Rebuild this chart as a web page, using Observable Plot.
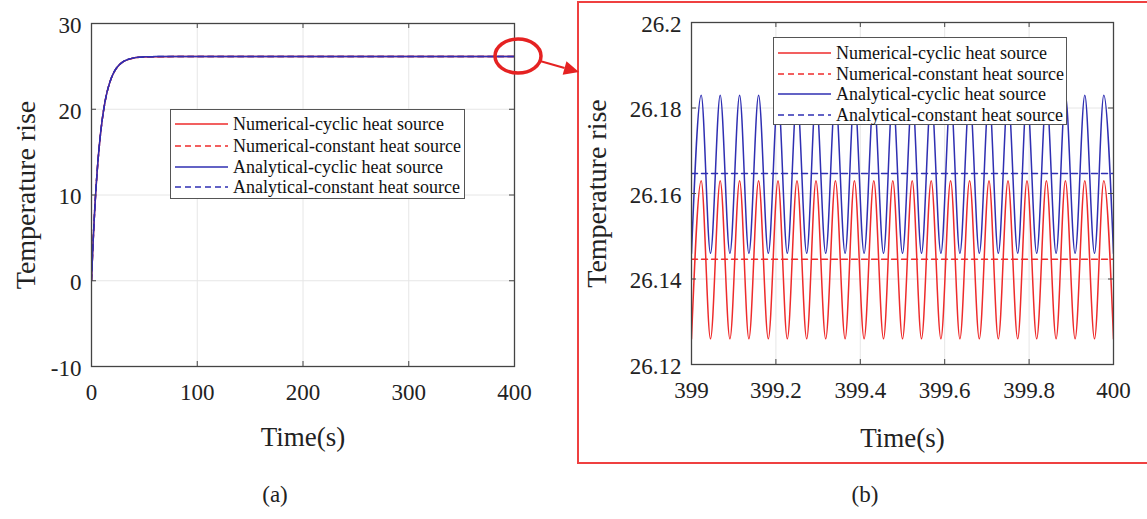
<!DOCTYPE html>
<html><head><meta charset="utf-8">
<script src="https://cdn.jsdelivr.net/npm/d3@7"></script>
<script src="https://cdn.jsdelivr.net/npm/@observablehq/plot@0.6"></script>
<style>
html,body{margin:0;padding:0;background:#fff;}
#root{position:relative;width:1147px;height:519px;overflow:hidden;font-family:"Liberation Serif","Times New Roman",serif;background:#fff;}
.plot{position:absolute;top:0;}
.plot text{font-family:"Liberation Serif","Times New Roman",serif !important;font-variant-numeric:normal !important;}
.legend{position:absolute;background:#fff;border:1px solid #555;box-sizing:border-box;font-size:18px;color:#111;}
.row{position:absolute;left:0;height:20px;display:flex;align-items:center;white-space:nowrap;transform:translateY(-50%);}
.cap{position:absolute;font-size:23px;color:#222;transform:translate(-50%,-50%);white-space:nowrap;}
#overlay{position:absolute;left:0;top:0;}
</style></head><body><div id="root"></div>
<script>
// ---------- series labels ----------
const seriesNames = ["Numerical-cyclic heat source","Numerical-constant heat source","Analytical-cyclic heat source","Analytical-constant heat source"];
const xTitle = "Time(s)";
const yTitle = "Temperature rise";
const captions = ["(a)", "(b)"];

// ---------- panel (a): full run ----------
const xTicksA = [0, 100, 200, 300, 400];
const xLabelsA = ["0", "100", "200", "300", "400"];
const yTicksA = [-10, 0, 10, 20, 30];
const yLabelsA = ["-10", "0", "10", "20", "30"];
const riseTime = [0,1,2,3,4,5,6,8,10,12,14,16,18,20,23,26,30,35,40,45,50,60,80,100,150,200,250,300,350,400];
const numRise  = [0,3.07,5.78,8.18,10.29,12.15,13.80,16.53,18.66,20.32,21.61,22.61,23.39,24.00,24.68,25.14,25.54,25.82,25.97,26.05,26.09,26.12,26.14,26.145,26.145,26.145,26.145,26.145,26.145,26.145];
const anaRise  = [0,3.07,5.78,8.18,10.29,12.15,13.80,16.53,18.66,20.32,21.61,22.61,23.39,24.01,24.69,25.15,25.56,25.84,25.99,26.07,26.11,26.14,26.16,26.165,26.165,26.165,26.165,26.165,26.165,26.165];

// ---------- panel (b): last second ----------
const xTicksB = [399, 399.2, 399.4, 399.6, 399.8, 400];
const xLabelsB = ["399", "399.2", "399.4", "399.6", "399.8", "400"];
const yTicksB = [26.12, 26.14, 26.16, 26.18, 26.2];
const yLabelsB = ["26.12", "26.14", "26.16", "26.18", "26.2"];
const zoomTime = [399.000,399.023,399.045,399.068,399.091,399.114,399.136,399.159,399.182,399.205,399.227,399.250,399.273,399.295,399.318,399.341,399.364,399.386,399.409,399.432,399.455,399.477,399.500,399.523,399.545,399.568,399.591,399.614,399.636,399.659,399.682,399.705,399.727,399.750,399.773,399.795,399.818,399.841,399.864,399.886,399.909,399.932,399.955,399.977,400.000];
const numCyclic = [26.126,26.163,26.126,26.163,26.126,26.163,26.126,26.163,26.126,26.163,26.126,26.163,26.126,26.163,26.126,26.163,26.126,26.163,26.126,26.163,26.126,26.163,26.126,26.163,26.126,26.163,26.126,26.163,26.126,26.163,26.126,26.163,26.126,26.163,26.126,26.163,26.126,26.163,26.126,26.163,26.126,26.163,26.126,26.163,26.126];
const anaCyclic = [26.146,26.183,26.146,26.183,26.146,26.183,26.146,26.183,26.146,26.183,26.146,26.183,26.146,26.183,26.146,26.183,26.146,26.183,26.146,26.183,26.146,26.183,26.146,26.183,26.146,26.183,26.146,26.183,26.146,26.183,26.146,26.183,26.146,26.183,26.146,26.183,26.146,26.183,26.146,26.183,26.146,26.183,26.146,26.183,26.146];
const constTime = [399, 400];
const numConst = [26.1446, 26.1446];
const anaConst = [26.1647, 26.1647];

// ---------- styles ----------
const RED = "#ee2b2b", BLUE = "#2f2fb2";
const seriesColors = [RED, RED, BLUE, BLUE];
const seriesDash = [null, "6,4", null, "6,4"];
const FONT = '"Liberation Serif","Times New Roman",serif';
const AXIS = "#444";

const zip = (t, v) => t.map((x, i) => ({t: x, v: v[i]}));

function panel(o) {
  const [mt, mr, mb, ml] = o.margins;
  const ph = o.height - mt - mb, pw = o.width - ml - mr;
  const tl = 5;
  const fx = d => o.xLabels[o.xTicks.indexOf(d)];
  const fy = d => o.yLabels[o.yTicks.indexOf(d)];
  return Plot.plot({
    width: o.width, height: o.height,
    marginTop: mt, marginRight: mr, marginBottom: mb, marginLeft: ml,
    x: {domain: o.xDomain}, y: {domain: o.yDomain},
    style: {fontFamily: FONT, fontSize: "23px", color: "#222", background: "transparent", overflow: "visible"},
    marks: [
      Plot.gridX({ticks: o.xTicks, stroke: "#e6e6e6", strokeOpacity: 1}),
      Plot.gridY({ticks: o.yTicks, stroke: "#e6e6e6", strokeOpacity: 1}),
      ...o.lines.map((l, i) => Plot.line(l, {x: "t", y: "v", stroke: seriesColors[i], strokeWidth: 1.5,
        strokeDasharray: seriesDash[i], curve: o.curve, clip: true})),
      Plot.frame({stroke: AXIS, strokeWidth: 1.3}),
      Plot.tickX(o.xTicks, {x: d => d, insetTop: ph - tl, stroke: AXIS}),
      Plot.tickX(o.xTicks, {x: d => d, insetBottom: ph - tl, stroke: AXIS}),
      Plot.tickY(o.yTicks, {y: d => d, insetRight: pw - tl, stroke: AXIS}),
      Plot.tickY(o.yTicks, {y: d => d, insetLeft: pw - tl, stroke: AXIS}),
      Plot.axisX({ticks: o.xTicks, tickSize: 0, tickPadding: 17, tickFormat: fx, label: null, fontSize: 23, fontFamily: FONT, fill: "#222"}),
      Plot.axisY({ticks: o.yTicks, tickSize: 0, tickPadding: 10, tickFormat: fy, label: null, fontSize: 23, fontFamily: FONT, fill: "#222", dy: 2}),
      Plot.text([xTitle], {frameAnchor: "bottom", lineAnchor: "middle", textAnchor: "middle", dy: o.xTitleDy, fontSize: 27, fontFamily: FONT, text: d => d, fill: "#222"}),
      Plot.text([yTitle], {frameAnchor: "left", lineAnchor: "middle", textAnchor: "middle", dx: o.yTitleDx, rotate: -90, fontSize: 28, fontFamily: FONT, text: d => d, fill: "#222"})
    ]
  });
}

const root = document.getElementById("root");

const plotA = panel({
  width: 560, height: 470, margins: [23, 46, 104, 91],
  xDomain: [0, 400], yDomain: [-10, 30],
  xTicks: xTicksA, xLabels: xLabelsA, yTicks: yTicksA, yLabels: yLabelsA,
  lines: [zip(riseTime, numRise), zip(riseTime, numRise), zip(riseTime, anaRise), zip(riseTime, anaRise)],
  curve: "monotone-x", xTitleDy: 71, yTitleDx: -65
});
plotA.classList.add("plot"); plotA.style.left = "0px";
root.appendChild(plotA);

const B_LEFT = 580;
const plotB = panel({
  width: 567, height: 470, margins: [22, 34, 106, 111],
  xDomain: [399, 400], yDomain: [26.12, 26.2],
  xTicks: xTicksB, xLabels: xLabelsB, yTicks: yTicksB, yLabels: yLabelsB,
  lines: [zip(zoomTime, numCyclic), zip(constTime, numConst), zip(zoomTime, anaCyclic), zip(constTime, anaConst)],
  curve: "monotone-x", xTitleDy: 74, yTitleDx: -94
});
plotB.classList.add("plot"); plotB.style.left = B_LEFT + "px";
root.appendChild(plotB);

// ---------- legends ----------
function legend(left, top, w, h, rowYs) {
  const div = document.createElement("div");
  div.className = "legend";
  Object.assign(div.style, {left: left + "px", top: top + "px", width: w + "px", height: h + "px"});
  seriesNames.forEach((name, i) => {
    const r = document.createElement("div");
    r.className = "row";
    r.style.top = rowYs[i] + "px";
    r.innerHTML = `<svg width="62" height="20" style="flex:none"><line x1="4" x2="57" y1="10" y2="10" stroke="${seriesColors[i]}" stroke-width="1.6" ${seriesDash[i] ? `stroke-dasharray="${seriesDash[i]}"` : ""}/></svg><span>${name}</span>`;
    div.appendChild(r);
  });
  root.appendChild(div);
}
legend(170, 109, 295, 90, [14, 36, 57, 77]);
legend(773, 37, 294, 88, [15, 36, 56, 77]);

// ---------- captions ----------
[[captions[0], 275, 495], [captions[1], 865, 495]].forEach(([t, x, y]) => {
  const c = document.createElement("div");
  c.className = "cap"; c.textContent = t;
  c.style.left = x + "px"; c.style.top = y + "px";
  root.appendChild(c);
});

// ---------- zoom annotation (circle, arrow, red box) ----------
const sx = plotA.scale("x"), sy = plotA.scale("y");
const cx = sx.apply(400) + 4, cy = sy.apply(26.15);
const rx = 23, ry = 17;
const boxLeft = 578;
const x0 = cx + rx - 1, y0 = cy + 5, x1 = boxLeft + 1, y1 = 72;
const ang = Math.atan2(y1 - y0, x1 - x0), L = 15, W = 7;
const bx = x1 - L * Math.cos(ang), by = y1 - L * Math.sin(ang);
const px = -Math.sin(ang) * W, py = Math.cos(ang) * W;
const ns = "http://www.w3.org/2000/svg";
const ov = document.createElementNS(ns, "svg");
ov.setAttribute("id", "overlay"); ov.setAttribute("width", 1147); ov.setAttribute("height", 519);
ov.innerHTML = `
<rect x="${boxLeft}" y="2" width="600" height="461" fill="none" stroke="#ef4040" stroke-width="2"/>
<ellipse cx="${cx}" cy="${cy}" rx="${rx}" ry="${ry}" fill="none" stroke="#e52222" stroke-width="3.5"/>
<line x1="${x0}" y1="${y0}" x2="${bx}" y2="${by}" stroke="#e52222" stroke-width="2"/>
<polygon points="${x1},${y1} ${bx + px},${by + py} ${bx - px},${by - py}" fill="#e52222"/>`;
root.appendChild(ov);
</script></body></html>
